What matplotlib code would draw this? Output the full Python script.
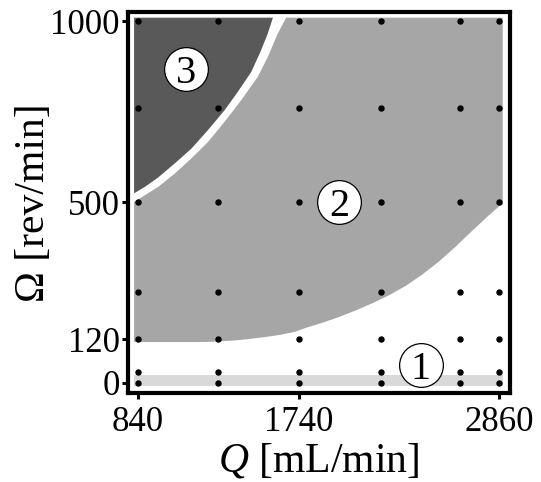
import matplotlib
matplotlib.use("Agg")
import matplotlib.pyplot as plt
import numpy as np

plt.rcParams['font.family'] = ['Liberation Serif', 'DejaVu Serif']
plt.rcParams['mathtext.fontset'] = 'custom'
plt.rcParams['mathtext.rm'] = 'Liberation Serif'
plt.rcParams['mathtext.it'] = 'Liberation Serif:italic'

# grid of operating points
q_points = [840, 1290, 1740, 2200, 2640, 2860]
omega_points = [0, 30, 120, 250, 500, 760, 1000]

x_ticks = [840, 1740, 2860]
y_ticks = [0, 120, 500, 1000]

# region extents
x_min, x_max = 820, 2880
y_min, y_max = -10, 1010

# region 1 band
band_low, band_high = -10, 22

# region 2 lower boundary
r2_low_x = [820, 1224, 1354, 1447, 1539, 1632, 1720, 1781, 1873, 1966, 2059, 2152,
            2245, 2338, 2430, 2523, 2616, 2709, 2802, 2867, 2880]
r2_low_y = [112.6, 112.6, 116, 120, 125.5, 132, 141, 152, 166, 182, 200, 220,
            242, 268, 299, 335, 376, 420, 463, 491, 493]

# region 2 upper-left boundary (edge of white gap)
r2_up_x = [820, 955, 1048, 1141, 1233, 1326, 1419, 1511, 1567, 1623, 1670]
r2_up_y = [500, 542, 579, 621, 666, 722, 782, 846, 901, 966, 1010]

# region 3 boundary
r3_x = [820, 881, 955, 1048, 1141, 1233, 1326, 1400, 1475, 1530, 1567, 1596]
r3_y = [524, 542, 568, 607, 648, 699, 754, 805, 860, 920, 966, 1010]

# labels
labels = ['1', '2', '3']
label_x = [2421, 1967, 1109]
label_y = [49, 500, 868]

fig = plt.figure(figsize=(5.41, 4.82), dpi=100)
ax = fig.add_axes([0.2366, 0.1846, 0.9418 - 0.2366, 0.9761 - 0.1846])
ax.set_xlim(786, 2918)
ax.set_ylim(-28.5, 1027)

# region 1 band
ax.fill_between([x_min, x_max], [band_low, band_low], [band_high, band_high],
                color='#d9d9d9', lw=0, zorder=1)

# region 2 polygon
poly_x = [x_min] + r2_up_x + [x_max] + r2_low_x[::-1]
poly_y = [r2_low_y[0]] + r2_up_y + [y_max] + r2_low_y[::-1]
ax.fill(poly_x, poly_y, color='#a6a6a6', lw=0, zorder=2)

# region 3
ax.fill(r3_x + [x_min], r3_y + [y_max], color='#595959', lw=0, zorder=3)

# dots
qq, oo = np.meshgrid(q_points, omega_points)
ax.plot(qq.ravel(), oo.ravel(), 'o', color='black', ms=3.6, zorder=5, clip_on=False)

# circled labels
for t, x, y in zip(labels, label_x, label_y):
    ax.plot([x], [y], 'o', ms=31.5, mfc='white', mec='black', mew=0.9, zorder=6)
    ax.text(x, y, t, fontsize=29, ha='center', va='center_baseline', zorder=7)

ax.set_xticks(x_ticks)
ax.set_yticks(y_ticks)
ax.set_xticklabels([str(v) for v in x_ticks], fontsize=25)
ax.set_yticklabels([str(v) for v in y_ticks], fontsize=25)
ax.tick_params(direction='out', length=4, width=2.2)
ax.tick_params(axis='x', pad=5)
ax.tick_params(axis='y', pad=2)
for s in ax.spines.values():
    s.set_linewidth(3)

ax.set_xlabel(r'$Q$ [mL/min]', fontsize=30, labelpad=2)
ax.set_ylabel('Ω [rev/min]', fontsize=30, labelpad=-2)

fig.savefig('out.png', dpi=100)
